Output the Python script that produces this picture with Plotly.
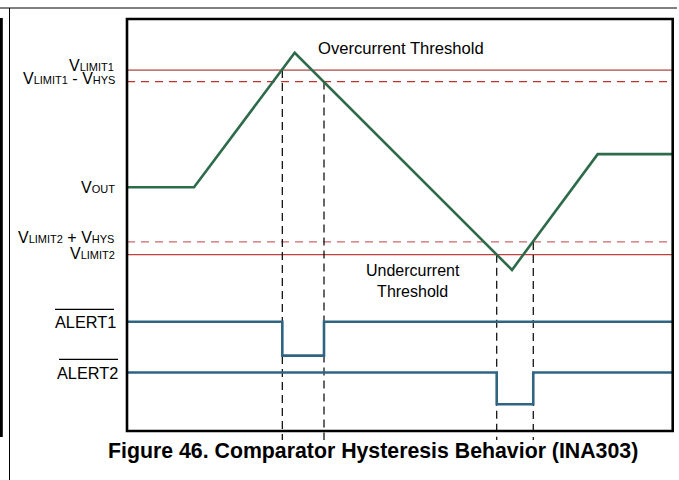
import plotly.graph_objects as go

# ---- data (time in % of window, voltage in % of box height) ----
time = [0, 12.28, 30.73, 70.55, 86.26, 100]
vout = [59.15, 59.15, 91.8, 39.1, 67.2, 67.2]

v_limit1 = 87.6
v_limit1_minus_hys = 84.8
v_limit2_plus_hys = 45.9
v_limit2 = 42.8

# comparator transition times
t_trip1, t_release1 = 28.46, 36.1
t_trip2, t_release2 = 67.75, 74.45

alert1_high, alert1_low = 26.5, 18.3
alert2_high, alert2_low = 14.2, 6.5

alert1_t = [0, t_trip1, t_release1, 100]
alert1_v = [alert1_high, alert1_low, alert1_high, alert1_high]
alert2_t = [0, t_trip2, t_release2, 100]
alert2_v = [alert2_high, alert2_low, alert2_high, alert2_high]

FONT = "Liberation Sans, Arial, Helvetica, sans-serif"
GREEN = "#2e6b4b"
BLUE = "#2f6583"

fig = go.Figure()

fig.add_trace(go.Scatter(x=time, y=vout, mode="lines",
                         line=dict(color=GREEN, width=2.6), hoverinfo="skip"))
fig.add_trace(go.Scatter(x=alert1_t, y=alert1_v, mode="lines", line_shape="hv",
                         line=dict(color=BLUE, width=2.6), hoverinfo="skip"))
fig.add_trace(go.Scatter(x=alert2_t, y=alert2_v, mode="lines", line_shape="hv",
                         line=dict(color=BLUE, width=2.6), hoverinfo="skip"))

shapes = []
# threshold lines
shapes.append(dict(type="line", x0=0, x1=100, y0=v_limit1, y1=v_limit1,
                   line=dict(color="#c47a7a", width=1.6), layer="below"))
shapes.append(dict(type="line", x0=0, x1=100, y0=v_limit1_minus_hys, y1=v_limit1_minus_hys,
                   line=dict(color="#c0322e", width=1.2, dash="8px,6px"), layer="below"))
shapes.append(dict(type="line", x0=0, x1=100, y0=v_limit2_plus_hys, y1=v_limit2_plus_hys,
                   line=dict(color="#c96a6a", width=1.2, dash="8px,6px"), layer="below"))
shapes.append(dict(type="line", x0=0, x1=100, y0=v_limit2, y1=v_limit2,
                   line=dict(color="#c0403c", width=1.1), layer="below"))
# vertical dashed markers
for t, ytop in [(t_trip1, v_limit1), (t_release1, v_limit1_minus_hys),
                (t_trip2, v_limit2), (t_release2, v_limit2_plus_hys)]:
    shapes.append(dict(type="line", x0=t, x1=t, y0=ytop, y1=-2.2,
                       line=dict(color="black", width=1.2, dash="8px,5px"), layer="below"))
# box
shapes.append(dict(type="rect", x0=0, x1=100, y0=0, y1=100,
                   line=dict(color="black", width=2.6)))
# overlines for ALERT labels
shapes.append(dict(type="line", x0=-13.19, x1=-2.38, y0=29.54, y1=29.54,
                   line=dict(color="black", width=1.2)))
shapes.append(dict(type="line", x0=-12.46, x1=-1.65, y0=17.40, y1=17.40,
                   line=dict(color="black", width=1.2)))
# page frame decorations
shapes.append(dict(type="line", xref="paper", yref="paper", x0=0, x1=677/679,
                   y0=1 - 8/480, y1=1 - 8/480, line=dict(color="black", width=1)))
shapes.append(dict(type="line", xref="paper", yref="paper", x0=9.5/679, x1=9.5/679,
                   y0=0, y1=1 - 8/480, line=dict(color="black", width=1)))
shapes.append(dict(type="rect", xref="paper", yref="paper", x0=0, x1=2.8/679,
                   y0=1 - 437/480, y1=1 - 18/480, fillcolor="black",
                   line=dict(width=0)))


def sub(s):
    return '<span style="font-size:11px">' + s + '</span>'


annotations = []
lab = dict(font=dict(family=FONT, size=16, color="black"), showarrow=False,
           xanchor="right", yanchor="middle")
annotations.append(dict(x=-2.0, y=88.7, text="V" + sub("LIMIT1"), **lab))
annotations.append(dict(x=-1.9, y=85.6, text="V" + sub("LIMIT1") + " - V" + sub("HYS"), **lab))
annotations.append(dict(x=-1.8, y=59.0, text="V" + sub("OUT"), **lab))
annotations.append(dict(x=-2.0, y=47.0, text="V" + sub("LIMIT2") + " + V" + sub("HYS"), **lab))
annotations.append(dict(x=-1.9, y=43.1, text="V" + sub("LIMIT2"), **lab))
lab2 = dict(lab, font=dict(family=FONT, size=16.3, color="black"))
annotations.append(dict(x=-1.56, y=alert1_high, text="ALERT1", **lab2))
annotations.append(dict(x=-1.28, y=alert2_high, text="ALERT2", **lab2))

annotations.append(dict(x=50.15, y=92.96, text="Overcurrent Threshold", showarrow=False,
                        font=dict(family=FONT, size=16.6, color="black"),
                        xanchor="center", yanchor="middle"))
annotations.append(dict(x=52.35, y=36.53, text="Undercurrent<br>Threshold", showarrow=False,
                        font=dict(family=FONT, size=16, color="black"),
                        xanchor="center", yanchor="middle"))
annotations.append(dict(x=45.17, y=-4.85,
                        text="<b>Figure 46. Comparator Hysteresis Behavior (INA303)</b>",
                        showarrow=False, font=dict(family=FONT, size=21.3, color="black"),
                        xanchor="center", yanchor="middle"))

fig.update_layout(
    width=679, height=480, autosize=False,
    margin=dict(l=0, r=0, t=0, b=0, pad=0),
    paper_bgcolor="white", plot_bgcolor="white",
    showlegend=False,
    xaxis=dict(range=[-127/5.457, (679-127)/5.457], visible=False, fixedrange=True),
    yaxis=dict(range=[(431-480)/4.12, 431/4.12], visible=False, fixedrange=True),
    shapes=shapes, annotations=annotations,
)

fig.write_html("out.html", config={"displayModeBar": False},
               post_script="document.body.style.margin='0';document.body.style.overflow='hidden';")
